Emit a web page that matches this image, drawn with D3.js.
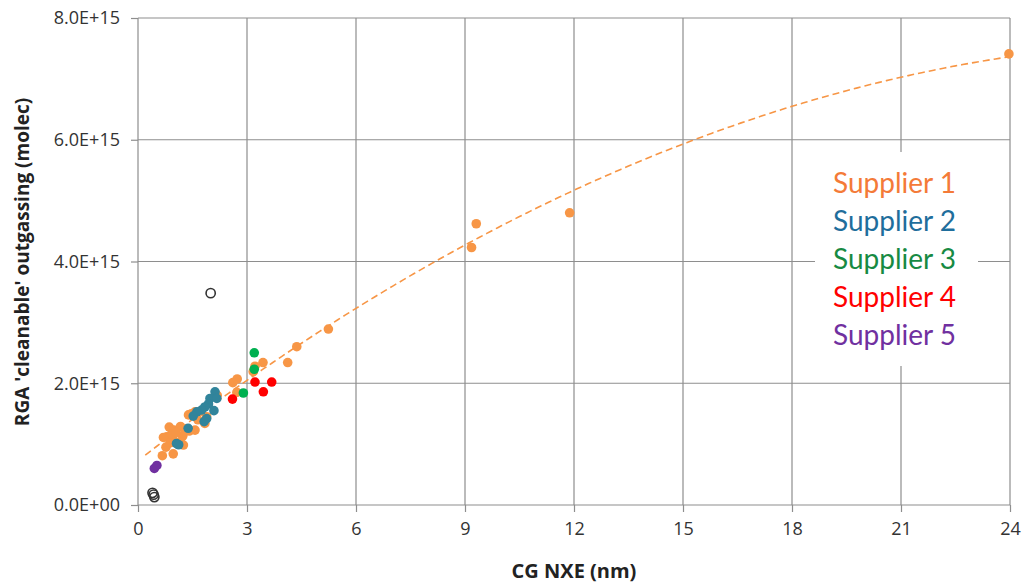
<!DOCTYPE html>
<html>
<head>
<meta charset="utf-8">
<script src="https://cdn.jsdelivr.net/npm/d3@7"></script>
<style>
  html, body { margin: 0; padding: 0; background: #fff; }
  svg { display: block; }
</style>
</head>
<body>
<svg id="chart" width="1024" height="583"></svg>
<script>
// Outgassing vs. contamination growth, per supplier (y values in molecules)
const supplier1X = [0.67, 0.97, 0.77, 0.79, 0.70, 0.86, 0.99, 1.17, 1.23, 1.16, 0.97, 1.25, 0.93, 1.41, 1.57, 1.39, 1.57, 1.73, 1.84, 1.89, 2.18, 2.61, 2.73, 2.72, 3.17, 3.22, 3.44, 4.12, 4.37, 5.24, 9.18, 9.31, 11.88, 23.97, 1.05, 1.30, 1.47, 0.88, 1.65];
const supplier1Y = [0.81, 0.84, 0.95, 1.12, 1.11, 1.28, 1.23, 1.29, 1.13, 1.04, 1.07, 0.985, 1.17, 1.215, 1.23, 1.48, 1.53, 1.54, 1.34, 1.45, 1.80, 2.01, 2.07, 1.85, 2.19, 2.28, 2.34, 2.34, 2.60, 2.89, 4.23, 4.62, 4.80, 7.41, 1.19, 1.21, 1.50, 1.02, 1.40].map(v => v * 1e15);

const supplier2X = [2.12, 1.98, 2.17, 1.94, 1.84, 1.75, 1.62, 1.52, 2.09, 1.89, 1.82, 1.38, 1.06, 1.12];
const supplier2Y = [1.86, 1.75, 1.75, 1.66, 1.61, 1.56, 1.53, 1.46, 1.55, 1.42, 1.37, 1.26, 1.01, 0.99].map(v => v * 1e15);

const supplier3X = [3.20, 3.20, 2.90];
const supplier3Y = [2.50, 2.23, 1.84].map(v => v * 1e15);

const supplier4X = [3.22, 3.68, 3.45, 2.60];
const supplier4Y = [2.02, 2.02, 1.86, 1.74].map(v => v * 1e15);

const supplier5X = [0.45, 0.52];
const supplier5Y = [0.60, 0.65].map(v => v * 1e15);

// reference samples drawn as open circles
const referenceX = [2.00, 0.40, 0.45, 0.43];
const referenceY = [3.48, 0.20, 0.13, 0.17].map(v => v * 1e15);

// polynomial trendline (order 2) through the supplier 1 data: c0 + c1*x + c2*x^2
const trendCoef = [0.727e15, 0.464e15, -0.00781e15];
const trendRange = [0.2, 24];

const xTicks = [0, 3, 6, 9, 12, 15, 18, 21, 24];
const yTicks = [0, 2e15, 4e15, 6e15, 8e15];
const yTickLabels = ["0.0E+00", "2.0E+15", "4.0E+15", "6.0E+15", "8.0E+15"];

const seriesNames = ["Supplier 1", "Supplier 2", "Supplier 3", "Supplier 4", "Supplier 5"];
const markerColors = ["#F79646", "#31849B", "#00B050", "#FF0000", "#7030A0"];
const legendColors = ["#F47A38", "#1F6E9C", "#178A43", "#FF0000", "#7030A0"];

const series = [
  { xs: supplier1X, ys: supplier1Y },
  { xs: supplier2X, ys: supplier2Y },
  { xs: supplier3X, ys: supplier3Y },
  { xs: supplier4X, ys: supplier4Y },
  { xs: supplier5X, ys: supplier5Y }
];

const svg = d3.select("#chart");
const plot = { left: 138, right: 1010, top: 18, bottom: 505 };

const x = d3.scaleLinear().domain([0, 24]).range([plot.left, plot.right]);
const y = d3.scaleLinear().domain([0, 8e15]).range([plot.bottom, plot.top]);

const gridColor = "#8e8e8e";

// gridlines
const grid = svg.append("g");
grid.selectAll("line.v").data(xTicks.filter(d => d > 0)).join("line")
  .attr("x1", d => x(d)).attr("x2", d => x(d))
  .attr("y1", plot.top).attr("y2", plot.bottom)
  .attr("stroke", gridColor).attr("stroke-width", 1.2);
grid.selectAll("line.h").data(yTicks.filter(d => d > 0)).join("line")
  .attr("x1", plot.left).attr("x2", plot.right)
  .attr("y1", d => y(d)).attr("y2", d => y(d))
  .attr("stroke", gridColor).attr("stroke-width", 1.2);

// axes
const tickFont = "'Open Sans', sans-serif";
const yAxis = svg.append("g")
  .attr("transform", `translate(${plot.left},0)`)
  .call(d3.axisLeft(y).tickValues(yTicks).tickSize(7).tickPadding(11)
    .tickFormat((d, i) => yTickLabels[i]));
const xAxis = svg.append("g")
  .attr("transform", `translate(0,${plot.bottom})`)
  .call(d3.axisBottom(x).tickValues(xTicks).tickSize(7).tickPadding(10)
    .tickFormat(d3.format("d")));
[xAxis, yAxis].forEach(g => {
  g.select(".domain").attr("stroke", gridColor).attr("stroke-width", 1.2);
  g.selectAll(".tick line").attr("stroke", gridColor).attr("stroke-width", 1.2);
  g.selectAll(".tick text").attr("fill", "#333").attr("font-family", tickFont).attr("font-size", 18);
});
yAxis.select(".domain").attr("d", `M0,${plot.top}V${plot.bottom}`);
xAxis.select(".domain").attr("d", `M${plot.left},0H${plot.right}`);

// legend backdrop hides the gridlines behind the legend
svg.append("rect")
  .attr("x", 815).attr("y", 152).attr("width", 163).attr("height", 214)
  .attr("fill", "#fff");

// trendline
const trend = x0 => trendCoef[0] + trendCoef[1] * x0 + trendCoef[2] * x0 * x0;
const trendPts = d3.range(trendRange[0], trendRange[1] + 0.001, 0.1).map(v => [v, trend(v)]);
svg.append("path")
  .attr("d", d3.line().x(d => x(d[0])).y(d => y(d[1]))(trendPts))
  .attr("fill", "none")
  .attr("stroke", markerColors[0])
  .attr("stroke-width", 1.6)
  .attr("stroke-dasharray", "7,4");

// supplier markers
series.forEach((s, i) => {
  svg.append("g").selectAll("circle").data(s.xs.map((v, j) => [v, s.ys[j]])).join("circle")
    .attr("cx", d => x(d[0])).attr("cy", d => y(d[1]))
    .attr("r", 4.8)
    .attr("fill", markerColors[i]);
});

// reference samples
svg.append("g").selectAll("circle").data(referenceX.map((v, j) => [v, referenceY[j]])).join("circle")
  .attr("cx", d => x(d[0])).attr("cy", d => y(d[1]))
  .attr("r", 4.6)
  .attr("fill", "none")
  .attr("stroke", "#333")
  .attr("stroke-width", 1.6);

// legend
svg.append("g").selectAll("text").data(seriesNames).join("text")
  .attr("x", 833)
  .attr("y", (d, i) => 193 + i * 38)
  .attr("fill", (d, i) => legendColors[i])
  .attr("font-family", "Lato, sans-serif")
  .attr("font-size", 28)
  .text(d => d);

// axis titles
svg.append("text")
  .attr("x", (plot.left + plot.right) / 2).attr("y", 578)
  .attr("text-anchor", "middle")
  .attr("font-family", tickFont).attr("font-weight", "bold").attr("font-size", 20)
  .attr("fill", "#222")
  .text("CG NXE (nm)");
svg.append("text")
  .attr("transform", `translate(29,262) rotate(-90)`)
  .attr("text-anchor", "middle")
  .attr("font-family", tickFont).attr("font-weight", "bold").attr("font-size", 19)
  .attr("fill", "#222")
  .text("RGA 'cleanable' outgassing (molec)");
</script>
</body>
</html>
